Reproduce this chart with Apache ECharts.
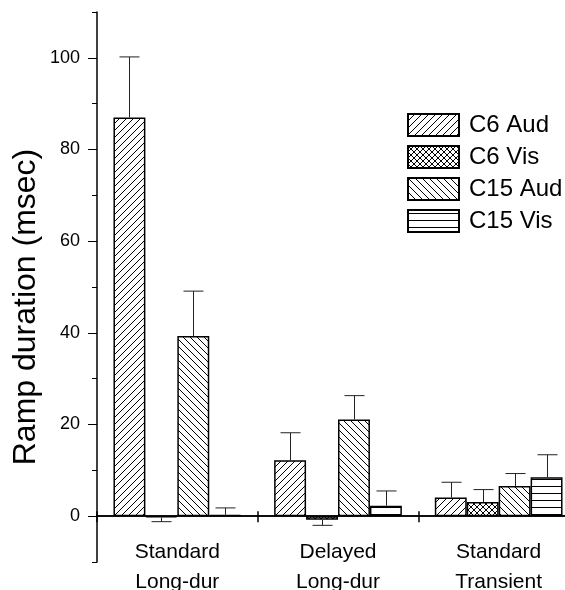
<!DOCTYPE html>
<html><head><meta charset="utf-8">
<script src="https://cdn.jsdelivr.net/npm/echarts@6/dist/echarts.min.js"></script>
<style>html,body{margin:0;padding:0;background:#fff}#c{width:565px;height:590px}</style>
</head><body><div id="c"></div>
<script>
// ---- data ----
const categories = ['Standard\nLong-dur', 'Delayed\nLong-dur', 'Standard\nTransient'];
const seriesNames = ['C6 Aud', 'C6 Vis', 'C15 Aud', 'C15 Vis'];
const c6Aud = [87.0, 12.2, 4.1];
const c6Vis = [-0.3, -0.8, 3.1];
const c15Aud = [39.3, 21.1, 6.6];
const c15Vis = [0.3, 2.3, 8.5];
const c6AudErr = [13.2, 6.0, 3.3];
const c6VisErr = [0.9, 1.2, 2.7];
const c15AudErr = [9.8, 5.2, 2.7];
const c15VisErr = [1.5, 3.2, 4.9];
const yTickLabels = [0, 20, 40, 60, 80, 100];
const yMinorTicks = [-10, 10, 30, 50, 70, 90, 110];

// ---- patterns ----
function pattern(kind) {
  const s = kind === 'cross' ? 6 : 7;
  const c = document.createElement('canvas');
  c.width = s; c.height = s;
  const g = c.getContext('2d');
  g.fillStyle = '#fff'; g.fillRect(0, 0, s, s);
  g.strokeStyle = '#000'; g.lineWidth = 1;
  g.beginPath();
  if (kind === 'fwd' || kind === 'cross') {
    g.moveTo(-1, s + 1); g.lineTo(s + 1, -1);
    g.moveTo(-1, 1); g.lineTo(1, -1);
    g.moveTo(s - 1, s + 1); g.lineTo(s + 1, s - 1);
  }
  if (kind === 'back' || kind === 'cross') {
    g.moveTo(-1, -1); g.lineTo(s + 1, s + 1);
    g.moveTo(s - 1, -1); g.lineTo(s + 1, 1);
    g.moveTo(-1, s - 1); g.lineTo(1, s + 1);
  }
  if (kind === 'horiz') {
    g.moveTo(0, 3.5); g.lineTo(s, 3.5);
  }
  g.stroke();
  return { image: c, repeat: 'repeat' };
}
const kinds = ['fwd', 'cross', 'back', 'horiz'];
const values = [c6Aud, c6Vis, c15Aud, c15Vis];
const errs = [c6AudErr, c6VisErr, c15AudErr, c15VisErr];
const GAP = 0.205;

const FONT = '"Liberation Sans", Arial, Helvetica, sans-serif';
const chart = echarts.init(document.getElementById('c'), null, { renderer: 'canvas' });

const barSeries = seriesNames.map((n, i) => ({
  name: n, type: 'bar', data: values[i],
  barGap: '0%', barCategoryGap: (GAP * 100) + '%',
  itemStyle: { color: pattern(kinds[i]), borderColor: '#000', borderWidth: 1.5 },
  emphasis: { disabled: true }, z: 2
}));

const errData = [];
values.forEach((vals, si) => vals.forEach((v, ci) => {
  const dir = v < 0 ? -1 : 1;
  errData.push([ci, v, v + dir * errs[si][ci], si]);
}));

const errSeries = {
  type: 'custom', name: 'err', data: errData, z: 3,
  encode: { x: 0, y: [1, 2] },
  renderItem(params, api) {
    const ci = api.value(0), si = api.value(3);
    const base = api.coord([ci, api.value(1)]);
    const end = api.coord([ci, api.value(2)]);
    const band = api.size([1, 0])[0];
    const bw = band * (1 - GAP) / 4;
    const x = Math.round(base[0] + (si - 1.5) * bw) + 0.5;
    const half = 10;
    const st = { stroke: '#222', lineWidth: 1 };
    return { type: 'group', children: [
      { type: 'line', shape: { x1: x, y1: base[1], x2: x, y2: end[1] }, style: st },
      { type: 'line', shape: { x1: x - half, y1: end[1], x2: x + half, y2: end[1] }, style: st }
    ] };
  }
};

chart.setOption({
  animation: false,
  backgroundColor: '#fff',
  grid: { left: 97, top: 12, bottom: 28, right: -14, containLabel: false, outerBoundsMode: 'none' },
  legend: {
    data: seriesNames, orient: 'vertical', left: 407, top: 113, padding: 0,
    itemWidth: 51, itemHeight: 22, itemGap: 8, icon: 'rect',
    textStyle: { fontSize: 24, lineHeight: 24, fontFamily: FONT, color: '#000', padding: [0, 0, 0, 5] },
    selectedMode: false
  },
  xAxis: [{
    type: 'category', data: categories, position: 'bottom',
    axisLine: { onZero: true, onZeroAxisIndex: 0, lineStyle: { color: '#000', width: 1.5 } },
    axisTick: { show: true, length: 6, lineStyle: { color: '#000', width: 1.5 } },
    axisLabel: { color: '#000', fontSize: 21, fontFamily: FONT, margin: -25, lineHeight: 30, interval: 0 },
    splitLine: { show: false }
  }, {
    type: 'category', data: categories, position: 'top',
    axisLine: { onZero: true, onZeroAxisIndex: 1, lineStyle: { color: '#000', width: 1.5 } },
    axisTick: { show: true, length: 5, lineStyle: { color: '#000', width: 1.5 } },
    axisLabel: { show: false }, splitLine: { show: false }
  }],
  yAxis: [{
    type: 'value', min: -10, max: 110, position: 'left',
    axisLine: { show: true, lineStyle: { color: '#000', width: 1.5 } },
    axisTick: { show: true, length: 9, customValues: yTickLabels, lineStyle: { color: '#000', width: 1 } },
    axisLabel: { customValues: yTickLabels, color: '#000', fontSize: 18, fontFamily: FONT, margin: 17 },
    splitLine: { show: false }
  }, {
    type: 'value', min: -10, max: 110, position: 'left',
    axisLine: { show: false },
    axisTick: { show: true, length: 5, customValues: yMinorTicks, lineStyle: { color: '#000', width: 1 } },
    axisLabel: { show: false }, splitLine: { show: false }
  }],
  graphic: [{
    type: 'text', x: 26, y: 307, rotation: Math.PI / 2,
    style: { text: 'Ramp duration (msec)', fontSize: 32, fontFamily: FONT, fill: '#000', align: 'center', verticalAlign: 'middle' }
  }],
  series: barSeries.concat([errSeries])
});
</script></body></html>
